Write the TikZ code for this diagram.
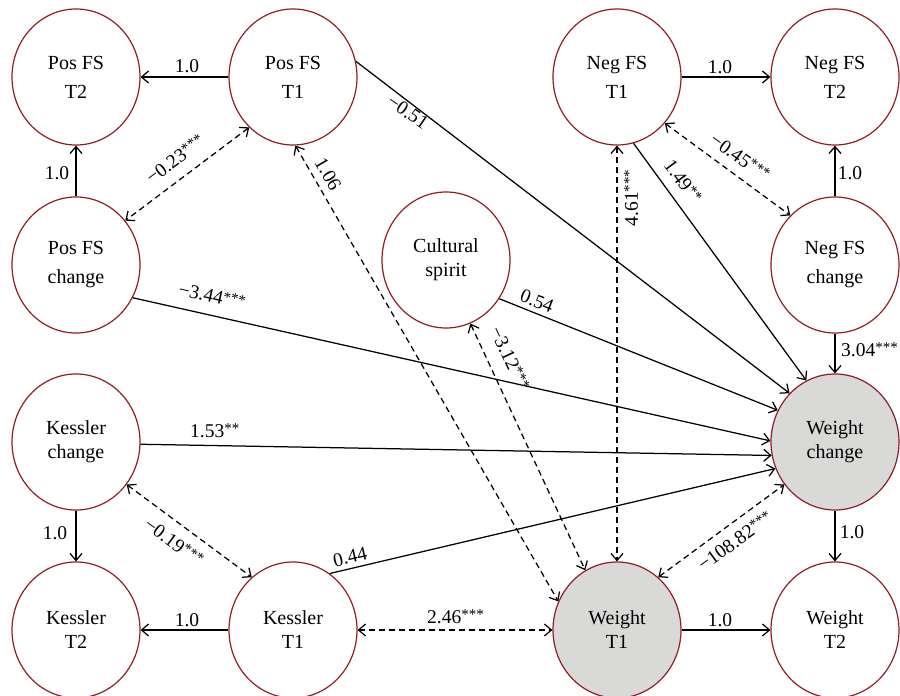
\documentclass[tikz,border=0pt]{standalone}
\usepackage{fontspec}
\setmainfont{Liberation Serif}
\usetikzlibrary{shapes.geometric,arrows.meta}
\definecolor{ringred}{RGB}{145,30,34}
\definecolor{wgray}{RGB}{217,217,215}
\newcommand{\sigstars}[1]{\raisebox{4pt}{\fontsize{15}{15}\selectfont #1}}
\begin{document}
\begin{tikzpicture}[x=1pt,y=-1pt,
  var/.style={ellipse,draw=ringred,line width=1.2pt,minimum width=128pt,minimum height=136pt,inner sep=0pt,align=center,font=\fontsize{20}{24}\selectfont},
  fsvar/.style={var,font=\fontsize{20}{29}\selectfont},
  obs/.style={fill=wgray},
  lab/.style={font=\fontsize{19.5}{22}\selectfont,inner sep=0pt},
  reg/.style={line width=1.25pt,-{Straight Barb[length=7pt,width=12pt]}},
  cov/.style={line width=1.25pt,dash pattern=on 6pt off 4pt,{Straight Barb[length=7pt,width=12pt]}-{Straight Barb[length=7pt,width=12pt]}}
]
\useasboundingbox (0,0) rectangle (900,696);

% nodes
\node[fsvar] (PT2) at (76,77) {Pos FS\\T2};
\node[fsvar] (PT1) at (293,77) {Pos FS\\T1};
\node[fsvar] (NT1) at (617,77) {Neg FS\\T1};
\node[fsvar] (NT2) at (835,77) {Neg FS\\T2};
\node[fsvar] (PC) at (76,265) {Pos FS\\change};
\node[var] (CS) at (446,260) {Cultural\\spirit};
\node[fsvar] (NC) at (835,265) {Neg FS\\change};
\node[var] (KC) at (76,442) {Kessler\\change};
\node[var,obs] (WC) at (835,442) {Weight\\change};
\node[var] (KT2) at (76,630) {Kessler\\T2};
\node[var] (KT1) at (293,630) {Kessler\\T1};
\node[var,obs] (WT1) at (617,630) {Weight\\T1};
\node[var] (WT2) at (835,630) {Weight\\T2};

% regression paths
\draw[reg] (PT1.west) -- (PT2.east);
\draw[reg] (PC.north) -- (PT2.south);
\draw[reg] (NT1.east) -- (NT2.west);
\draw[reg] (NC.north) -- (NT2.south);
\draw[reg] (NC.south) -- (WC.north);
\draw[reg] (KC.south) -- (KT2.north);
\draw[reg] (KT1.west) -- (KT2.east);
\draw[reg] (WC.south) -- (WT2.north);
\draw[reg] (WT1.east) -- (WT2.west);
\draw[reg] (PT1.14.9) -- (WC.133.3);
\draw[reg] (NT1.-76.6) -- (WC.115);
\draw[reg] (CS.-36.5) -- (WC.151.2);
\draw[reg] (PC.-30) -- (WC.179);
\draw[reg] (KC.-2) -- (WC.192);
\draw[reg] (KT1.57) -- (WC.204);

% covariances
\draw[cov] (PT1.229.3) -- (PC.42.6);
\draw[cov] (PT1.-88) -- (WT1.154.7);
\draw[cov] (CS.-69) -- (WT1.118.7);
\draw[cov] (NT1.south) -- (WT1.north);
\draw[cov] (NT1.-44.4) -- (NC.132);
\draw[cov] (WT1.52.8) -- (WC.220);
\draw[cov] (KT1.east) -- (WT1.west);
\draw[cov] (KC.-40.2) -- (KT1.128.5);

% labels
\node[lab,anchor=base] (l1) at (187,72) {1.0};
\node[lab,anchor=base] (l2) at (57,179) {1.0};
\node[lab,anchor=base] (l3) at (720,73) {1.0};
\node[lab,anchor=base] (l4) at (850,179) {1.0};
\node[lab,anchor=base] (l5) at (55,539) {1.0};
\node[lab,anchor=base] (l6) at (187,626) {1.0};
\node[lab,anchor=base] (l7) at (852,538) {1.0};
\node[lab,anchor=base] (l8) at (720,626) {1.0};
\node[lab,rotate=36.7] (l9) at (175,159) {−0.23\sigstars{***}};
\node[lab,rotate=-34.6] (l10) at (408,112) {−0.51};
\node[lab,rotate=-59.8] (l11) at (328,174) {1.06};
\node[lab,rotate=-12.6] (l12) at (212,296) {−3.44\sigstars{***}};
\node[lab,rotate=-65] (l13) at (510,358) {−3.12\sigstars{***}};
\node[lab,rotate=-21.5] (l14) at (537,301) {0.54};
\node[lab,rotate=90] (l15) at (631,198) {4.61\sigstars{***}};
\node[lab,rotate=-53.7] (l16) at (683,181) {1.49\sigstars{**}};
\node[lab,rotate=-35.7] (l17) at (740,157) {−0.45\sigstars{***}};
\node[lab,anchor=base west] (l18) at (841,356) {3.04\sigstars{***}};
\node[lab,anchor=base west] (l19) at (190,437) {1.53\sigstars{**}};
\node[lab,rotate=13.2] (l20) at (350,557) {0.44};
\node[lab,rotate=35.8] (l21) at (735,541) {−108.82\sigstars{***}};
\node[lab,anchor=base west] (l22) at (427,623) {2.46\sigstars{***}};
\node[lab,rotate=-36.4] (l23) at (174,542) {−0.19\sigstars{***}};
\end{tikzpicture}
\end{document}
